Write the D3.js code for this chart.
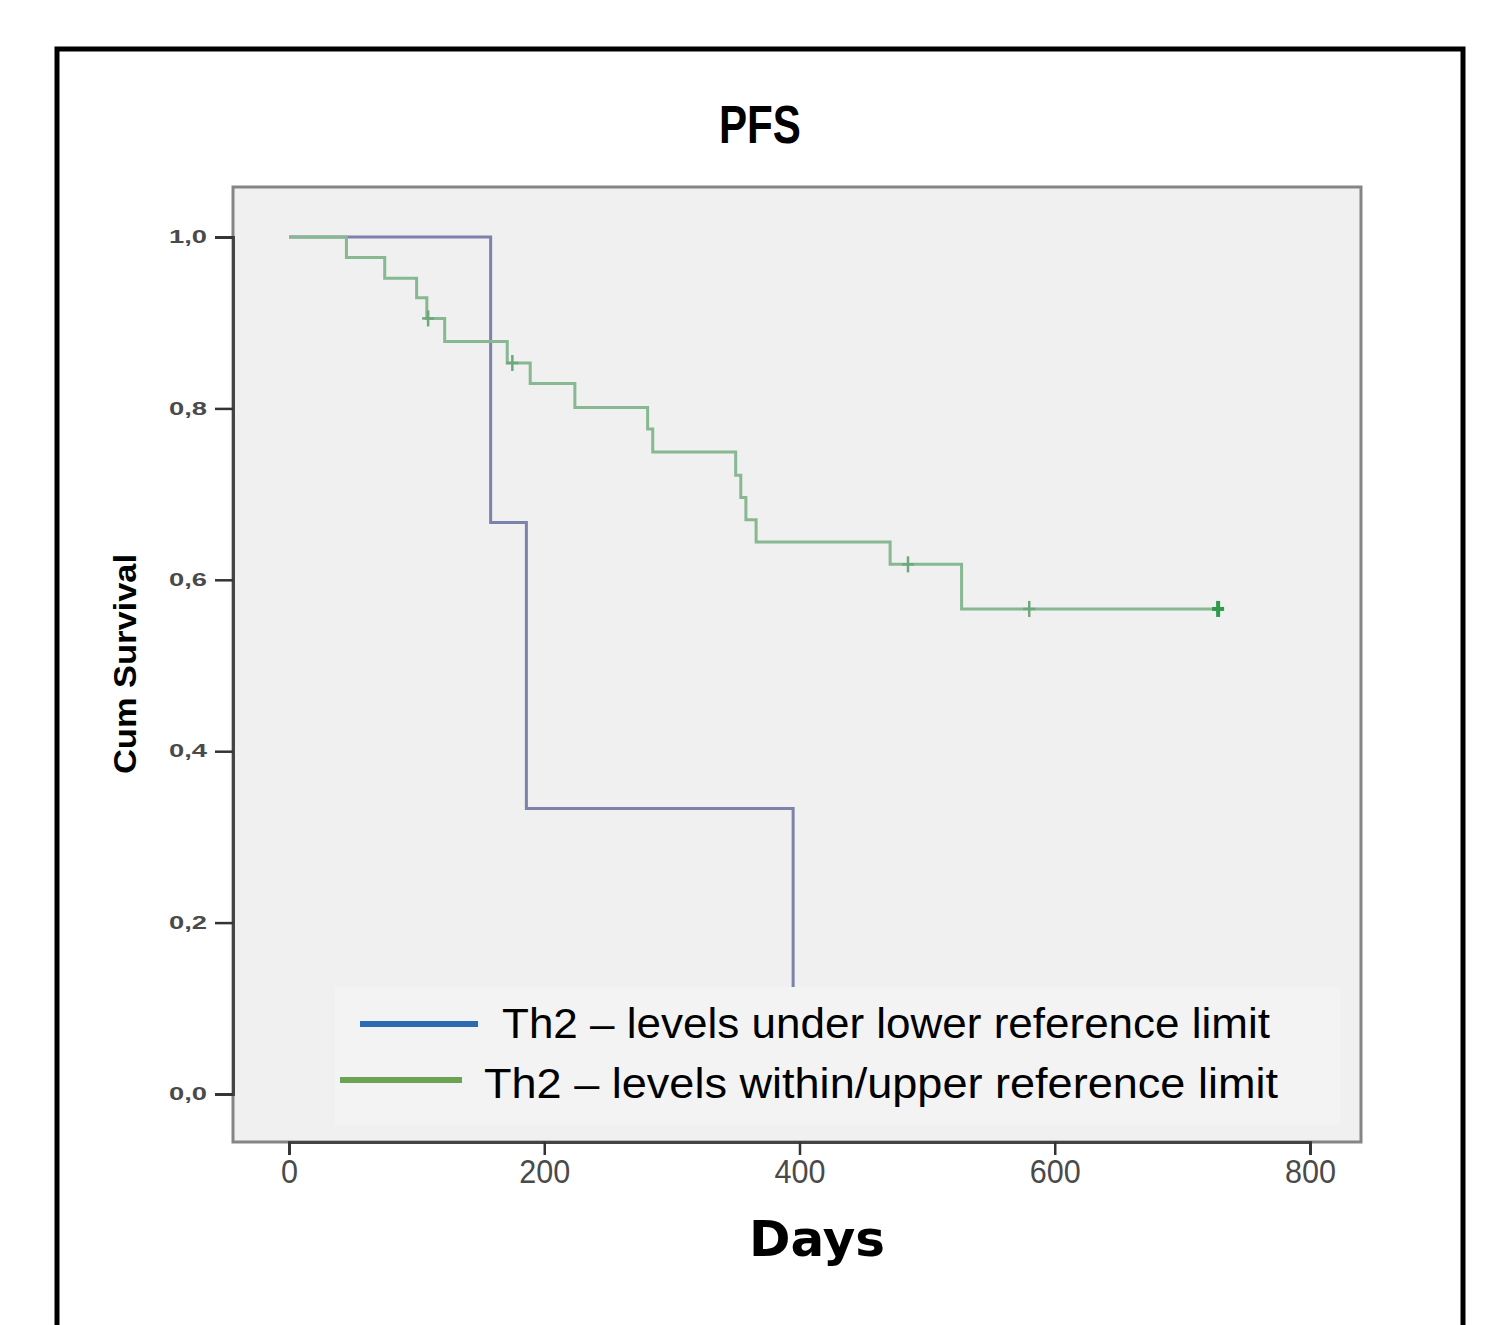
<!DOCTYPE html>
<html>
<head>
<meta charset="utf-8">
<script src="https://cdn.jsdelivr.net/npm/d3@7"></script>
<style>
  body { margin: 0; background: #fff; }
  svg { display: block; }
</style>
</head>
<body>
<svg width="1497" height="1325"></svg>
<script>
// Kaplan-Meier steps (days, cumulative survival)
const blueTimes = [0, 158, 186, 395];
const blueSurv  = [1.0, 0.667, 0.333, 0.0];

const greenTimes = [0, 45, 75, 100, 108, 122, 171, 189, 224, 281, 285, 350, 354, 358, 366, 471, 527];
const greenSurv  = [1.0, 0.976, 0.952, 0.929, 0.905, 0.878, 0.853, 0.829, 0.801, 0.776, 0.749, 0.722, 0.696, 0.670, 0.644, 0.618, 0.566];
const greenEnd = 728;

// censored observations on the green curve
const censorTimes = [109, 175, 485, 580, 728];
const censorSurv  = [0.905, 0.853, 0.618, 0.566, 0.566];

const xTicks = [0, 200, 400, 600, 800];
const yTicks = [0, 0.2, 0.4, 0.6, 0.8, 1.0];

const legendLabels = ["Th2 \u2013 levels under lower reference limit", "Th2 \u2013 levels within/upper reference limit"];

const svg = d3.select("svg");

// outer black frame
svg.append("rect")
  .attr("x", 57).attr("y", 49)
  .attr("width", 1406).attr("height", 1320)
  .attr("fill", "#fff")
  .attr("stroke", "#000")
  .attr("stroke-width", 5);

// plot area
const plotL = 233, plotT = 187, plotR = 1361, plotB = 1142;
svg.append("rect")
  .attr("x", plotL).attr("y", plotT)
  .attr("width", plotR - plotL).attr("height", plotB - plotT)
  .attr("fill", "#f0f0f0")
  .attr("stroke", "#858585")
  .attr("stroke-width", 3);

const x = d3.scaleLinear().domain([0, 800]).range([289, 1310]);
const y = d3.scaleLinear().domain([0, 1]).range([1094, 237]);

const commaFmt = d3.formatLocale({decimal: ",", thousands: ".", grouping: [3], currency: ["", ""]}).format(".1f");

// y axis
const yAxis = svg.append("g")
  .attr("transform", `translate(${plotL},0)`)
  .call(d3.axisLeft(y).tickValues(yTicks).tickFormat(commaFmt).tickSize(18).tickPadding(8));
yAxis.select(".domain").attr("stroke", "#444").attr("stroke-width", 3);
yAxis.selectAll(".tick line").attr("stroke", "#333").attr("stroke-width", 2.5);
yAxis.selectAll(".tick text")
  .attr("fill", "#4a4a4a")
  .attr("font-family", "Liberation Sans, Arial, sans-serif")
  .attr("font-weight", "bold")
  .attr("font-size", 18)
  .attr("textLength", 38)
  .attr("lengthAdjust", "spacingAndGlyphs");

// x axis, labels narrowed to the tall SPSS look
const xAxis = svg.append("g")
  .attr("transform", `translate(0,${plotB})`)
  .call(d3.axisBottom(x).tickValues(xTicks).tickFormat(d3.format("d")).tickSize(13).tickPadding(5));
xAxis.select(".domain").attr("stroke", "#444").attr("stroke-width", 3);
xAxis.selectAll(".tick line").attr("stroke", "#333").attr("stroke-width", 2.5);
xAxis.selectAll(".tick text")
  .attr("fill", "#4a4a4a")
  .attr("font-family", "Liberation Sans, Arial, sans-serif")
  .attr("font-size", 33)
  .attr("textLength", d => String(d).length * 17)
  .attr("lengthAdjust", "spacingAndGlyphs");

// survival step lines
const step = d3.line()
  .x(d => x(d[0]))
  .y(d => y(d[1]))
  .curve(d3.curveStepAfter);

const bluePts = blueTimes.map((t, i) => [t, blueSurv[i]]);
const greenPts = greenTimes.map((t, i) => [t, greenSurv[i]]);
greenPts.push([greenEnd, greenSurv[greenSurv.length - 1]]);

svg.append("path")
  .datum(bluePts)
  .attr("d", step)
  .attr("fill", "none")
  .attr("stroke", "#7c82ab")
  .attr("stroke-width", 3);

svg.append("path")
  .datum(greenPts)
  .attr("d", step)
  .attr("fill", "none")
  .attr("stroke", "#86b891")
  .attr("stroke-width", 3);

// censor marks
const censor = svg.append("g");
censorTimes.forEach((t, i) => {
  const last = i === censorTimes.length - 1;
  const cx = x(t), cy = y(censorSurv[i]);
  const col = last ? "#2f9a4c" : "#6fa77c";
  const w = last ? 4 : 2.5;
  censor.append("line")
    .attr("x1", cx).attr("x2", cx)
    .attr("y1", cy - 8).attr("y2", cy + 8)
    .attr("stroke", col).attr("stroke-width", w);
  censor.append("line")
    .attr("x1", cx - 6).attr("x2", cx + 6)
    .attr("y1", cy).attr("y2", cy)
    .attr("stroke", col).attr("stroke-width", w);
});

// legend
svg.append("rect")
  .attr("x", 335).attr("y", 987)
  .attr("width", 1005).attr("height", 138)
  .attr("fill", "#f3f3f3");

const legendColors = ["#2a6bb2", "#6aa351"];
const legendLines = [[360, 478, 1024], [340, 462, 1080]];
const legendText = [[502, 1038, 768], [484, 1098, 794]];

legendLabels.forEach((lab, i) => {
  svg.append("line")
    .attr("x1", legendLines[i][0]).attr("x2", legendLines[i][1])
    .attr("y1", legendLines[i][2]).attr("y2", legendLines[i][2])
    .attr("stroke", legendColors[i])
    .attr("stroke-width", 6);
  svg.append("text")
    .attr("x", legendText[i][0]).attr("y", legendText[i][1])
    .attr("font-family", "Liberation Sans, Arial, sans-serif")
    .attr("font-size", 42)
    .attr("fill", "#000")
    .attr("textLength", legendText[i][2])
    .attr("lengthAdjust", "spacingAndGlyphs")
    .text(lab);
});

// title
svg.append("text")
  .attr("x", 760).attr("y", 143)
  .attr("text-anchor", "middle")
  .attr("font-family", "Liberation Sans, Arial, sans-serif")
  .attr("font-weight", "bold")
  .attr("font-size", 54)
  .attr("textLength", 82)
  .attr("lengthAdjust", "spacingAndGlyphs")
  .text("PFS");

// y axis title
svg.append("text")
  .attr("transform", "translate(136,664) rotate(-90)")
  .attr("text-anchor", "middle")
  .attr("font-family", "Liberation Sans, Arial, sans-serif")
  .attr("font-weight", "bold")
  .attr("font-size", 32)
  .attr("textLength", 220)
  .attr("lengthAdjust", "spacingAndGlyphs")
  .text("Cum Survival");

// x axis title
svg.append("text")
  .attr("x", 817).attr("y", 1256)
  .attr("text-anchor", "middle")
  .attr("font-family", "DejaVu Sans, sans-serif")
  .attr("font-weight", "bold")
  .attr("font-size", 50)
  .text("Days");
</script>
</body>
</html>
